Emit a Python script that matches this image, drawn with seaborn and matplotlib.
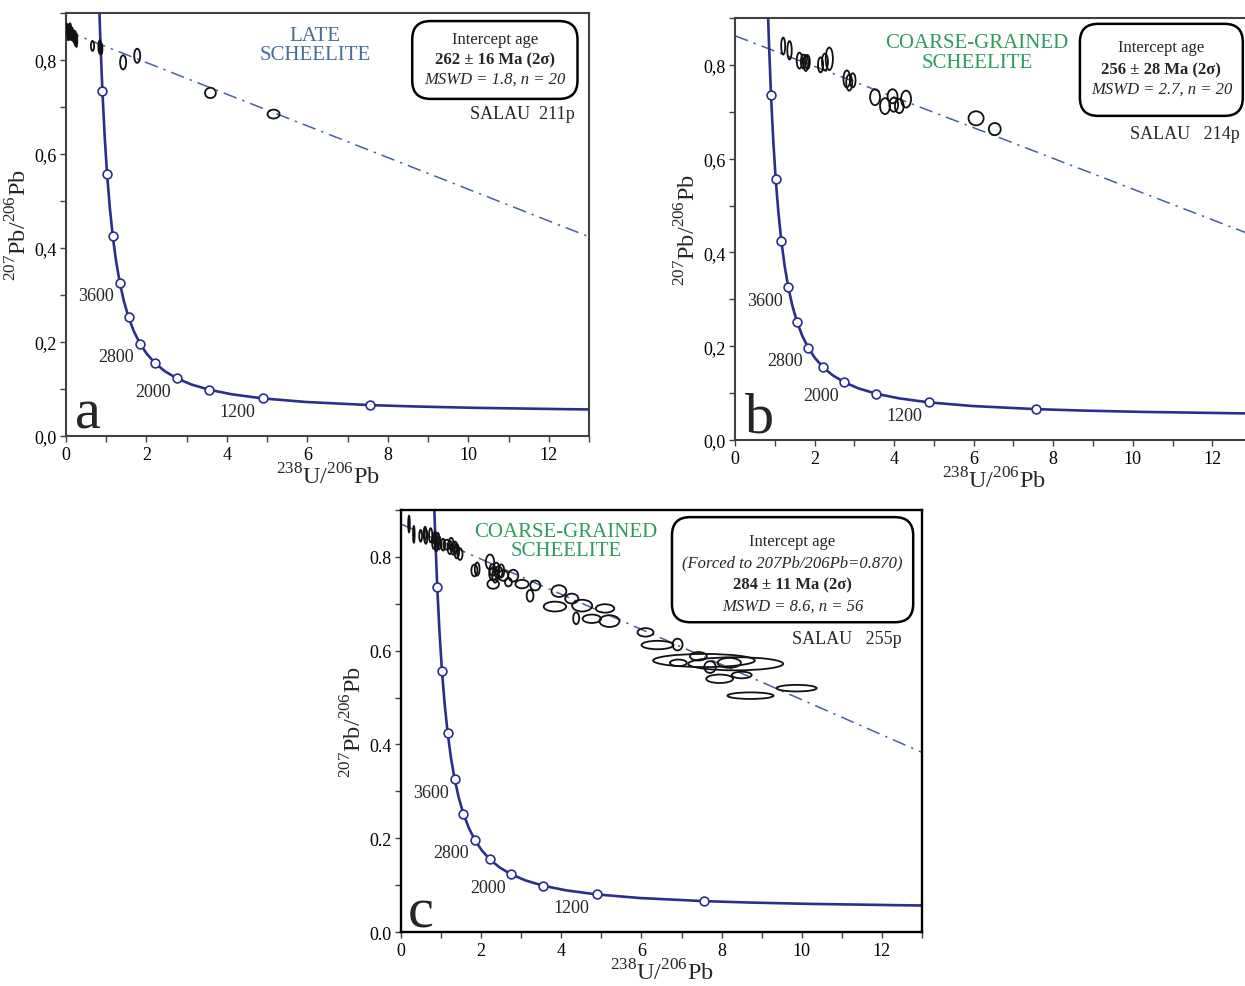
import matplotlib
matplotlib.use("Agg")
import matplotlib.pyplot as plt
from matplotlib.patches import Ellipse, FancyBboxPatch
from matplotlib.ticker import MultipleLocator, FuncFormatter
import seaborn as sns

# ── Data ──────────────────────────────────────────────────────────────────────
# Tera-Wasserburg concordia (age in Ma, 238U/206Pb, 207Pb/206Pb)
CONC_AGE = [478, 500, 600, 700, 800, 1000, 1200, 1400, 1600, 1800, 2000, 2200,
            2400, 2600, 2800, 3000, 3200, 3400, 3600, 3800, 4000, 4200, 4400,
            4600, 4800, 5000, 5100, 5200]
CONC_X = [13.0, 12.40, 10.252, 8.718, 7.568, 5.959, 4.888, 4.122, 3.549, 3.106,
          2.749, 2.4587, 2.2169, 2.0129, 1.8384, 1.6877, 1.5557, 1.4398, 1.3370,
          1.2453, 1.1630, 1.0888, 1.0212, 0.9604, 0.9045, 0.8533, 0.8292, 0.806]
CONC_Y = [0.0566, 0.0572, 0.0599, 0.0628, 0.0658, 0.0725, 0.0801, 0.0888, 0.0987,
          0.1100, 0.1230, 0.1378, 0.1548, 0.1744, 0.1968, 0.2227, 0.2524, 0.2867,
          0.3264, 0.3721, 0.4250, 0.4863, 0.5572, 0.6394, 0.7347, 0.8453, 0.907,
          0.973]

# concordia age markers (every 400 Ma)
MARK_AGE = [800, 1200, 1600, 2000, 2400, 2800, 3200, 3600, 4000, 4400, 4800]
MARK_X = [7.568, 4.888, 3.549, 2.749, 2.2169, 1.8384, 1.5557, 1.3370, 1.1630, 1.0212, 0.9045]
MARK_Y = [0.0658, 0.0801, 0.0987, 0.1230, 0.1548, 0.1968, 0.2524, 0.3264, 0.4250, 0.5572, 0.7347]
AGE_LABELS = ["3600", "2800", "2000", "1200"]

# discordia (regression) lines
REG_A_X, REG_A_Y = [0, 13], [0.862, 0.424]
REG_B_X, REG_B_Y = [0, 13], [0.862, 0.437]
REG_C_X, REG_C_Y = [0, 13], [0.870, 0.383]

# analyses: centre x, centre y, ellipse width, ellipse height (2 sigma)
A_X = [0.03, 0.05, 0.07, 0.09, 0.11, 0.13, 0.15, 0.17, 0.20, 0.23, 0.26, 0.06, 0.10,
       0.66, 0.84, 0.87, 1.42, 1.77, 3.59, 5.16]
A_Y = [0.866, 0.860, 0.864, 0.857, 0.862, 0.855, 0.859, 0.852, 0.850, 0.846, 0.842,
       0.852, 0.868, 0.830, 0.828, 0.824, 0.795, 0.809, 0.730, 0.685]
A_W = [0.05, 0.05, 0.05, 0.05, 0.05, 0.05, 0.05, 0.05, 0.04, 0.04, 0.04, 0.05, 0.05,
       0.08, 0.07, 0.07, 0.15, 0.15, 0.27, 0.30]
A_H = [0.022, 0.025, 0.022, 0.025, 0.022, 0.025, 0.020, 0.022, 0.025, 0.030, 0.028,
       0.020, 0.020, 0.021, 0.028, 0.025, 0.030, 0.030, 0.022, 0.019]

B_X = [1.21, 1.37, 1.62, 1.72, 1.78, 1.82, 2.15, 2.26, 2.37, 2.81, 2.87, 2.96,
       3.52, 3.77, 3.96, 3.99, 4.13, 4.30, 6.06, 6.53]
B_Y = [0.840, 0.831, 0.809, 0.807, 0.804, 0.806, 0.800, 0.806, 0.813, 0.770, 0.762,
       0.767, 0.731, 0.712, 0.733, 0.715, 0.712, 0.727, 0.686, 0.663]
B_W = [0.10, 0.11, 0.14, 0.13, 0.12, 0.12, 0.13, 0.15, 0.18, 0.17, 0.15, 0.14,
       0.25, 0.25, 0.25, 0.22, 0.22, 0.25, 0.38, 0.30]
B_H = [0.036, 0.039, 0.034, 0.030, 0.034, 0.030, 0.032, 0.036, 0.048, 0.036, 0.034,
       0.030, 0.034, 0.034, 0.030, 0.030, 0.030, 0.036, 0.030, 0.026]

C_X = [0.20, 0.32, 0.49, 0.60, 0.62, 0.74, 0.82, 0.85, 0.88, 0.92, 0.95, 1.05,
       1.14, 1.22, 1.25, 1.31, 1.35, 1.39, 1.47, 1.83, 1.90, 2.22, 2.28, 2.30,
       2.35, 2.38, 2.43, 2.30, 2.55, 2.68, 2.80, 3.02, 3.35, 3.22, 3.94, 4.26,
       3.84, 4.52, 5.09, 4.37, 4.76, 5.20, 6.10, 6.40, 6.90, 7.42, 7.56, 8.35,
       6.92, 7.71, 8.19, 7.95, 8.50, 8.72, 9.87, 2.50]
C_Y = [0.870, 0.848, 0.845, 0.850, 0.843, 0.846, 0.832, 0.840, 0.826, 0.836, 0.830,
       0.826, 0.826, 0.820, 0.828, 0.817, 0.820, 0.812, 0.806, 0.771, 0.774, 0.789,
       0.772, 0.764, 0.760, 0.775, 0.767, 0.742, 0.760, 0.746, 0.760, 0.742, 0.739,
       0.717, 0.727, 0.711, 0.694, 0.696, 0.690, 0.669, 0.668, 0.663, 0.639, 0.612,
       0.613, 0.588, 0.579, 0.572, 0.574, 0.565, 0.574, 0.540, 0.548, 0.504, 0.520,
       0.770]
C_W = [0.04, 0.04, 0.07, 0.07, 0.08, 0.08, 0.09, 0.08, 0.08, 0.08, 0.08, 0.10,
       0.17, 0.12, 0.12, 0.14, 0.12, 0.12, 0.13, 0.15, 0.12, 0.21, 0.15, 0.20,
       0.15, 0.15, 0.20, 0.29, 0.25, 0.17, 0.25, 0.33, 0.25, 0.17, 0.37, 0.33,
       0.56, 0.50, 0.46, 0.15, 0.46, 0.50, 0.40, 0.80, 0.25, 0.42, 2.54, 2.37,
       0.42, 0.29, 0.58, 0.67, 0.50, 1.15, 1.00, 0.15]
C_H = [0.035, 0.035, 0.025, 0.028, 0.030, 0.030, 0.030, 0.028, 0.028, 0.030, 0.028,
       0.025, 0.021, 0.028, 0.025, 0.025, 0.025, 0.030, 0.025, 0.025, 0.028, 0.032,
       0.025, 0.028, 0.030, 0.025, 0.025, 0.020, 0.022, 0.018, 0.025, 0.018, 0.021,
       0.025, 0.025, 0.021, 0.021, 0.025, 0.018, 0.025, 0.018, 0.025, 0.018, 0.018,
       0.025, 0.018, 0.028, 0.028, 0.014, 0.025, 0.021, 0.018, 0.014, 0.014, 0.014,
       0.028]

# ── Style ─────────────────────────────────────────────────────────────────────
sns.set_theme(style="ticks")
plt.rcParams["font.family"] = ["Liberation Serif", "DejaVu Serif"]
plt.rcParams["mathtext.fontset"] = "custom"
plt.rcParams["mathtext.rm"] = "Liberation Serif"

NAVY = "#2b2e8c"
REG_COL = "#45609a"
BLUE_TXT = "#4a6c9c"
GREEN_TXT = "#2f9a5c"
FRAME = "#404040"


def comma_fmt(v, pos):
    return f"{v:.1f}".replace(".", ",")


def draw_panel(ax, ex, ey, ew, eh, reg_x, reg_y, comma=True):
    sns.lineplot(x=reg_x, y=reg_y, color=REG_COL, lw=1.1, sort=False, ax=ax)
    ax.lines[-1].set_dashes([9, 4, 1.5, 4])
    sns.lineplot(x=CONC_X, y=CONC_Y, color=NAVY, lw=1.9, sort=False, ax=ax)
    sns.scatterplot(x=MARK_X, y=MARK_Y, s=40, color="white", edgecolor=NAVY,
                    linewidth=1.2, zorder=5, ax=ax)
    for x, y, w, h in zip(ex, ey, ew, eh):
        ax.add_patch(Ellipse((x, y), w, h, fill=False, edgecolor="#111111", lw=1.3, zorder=4))

    for lab, (lx, ly) in zip(AGE_LABELS, [(0.75, 0.298), (1.25, 0.170), (2.17, 0.095), (4.25, 0.052)]):
        ax.text(lx, ly, lab, fontsize=13, ha="center", va="center")

    ax.set_xlim(0, 13)
    ax.set_ylim(0, 0.9)
    ax.xaxis.set_major_locator(MultipleLocator(2))
    ax.xaxis.set_minor_locator(MultipleLocator(1))
    ax.yaxis.set_major_locator(MultipleLocator(0.2))
    ax.yaxis.set_minor_locator(MultipleLocator(0.1))
    if comma:
        ax.yaxis.set_major_formatter(FuncFormatter(comma_fmt))
    else:
        ax.yaxis.set_major_formatter(FuncFormatter(lambda v, p: f"{v:.1f}"))
    ax.tick_params(which="both", direction="out", length=4, width=1, colors=FRAME,
                   labelcolor="black", labelsize=13, pad=3)
    for sp in ax.spines.values():
        sp.set_visible(True)
        sp.set_color(FRAME)
        sp.set_linewidth(1.5)
    ax.set_xlabel(r"$^{\mathrm{238}}$U/$^{\mathrm{206}}$Pb", fontsize=17.5, labelpad=0)
    ax.set_ylabel(r"$^{\mathrm{207}}$Pb/$^{\mathrm{206}}$Pb", fontsize=17.5, labelpad=2)


def info_box(ax, x0, y0, x1, y1, aspect):
    box = FancyBboxPatch((x0, y0), x1 - x0, y1 - y0, transform=ax.transAxes,
                         boxstyle="round,pad=0,rounding_size=0.035",
                         mutation_aspect=aspect, fill=False, edgecolor="black",
                         lw=1.8, zorder=6)
    ax.add_patch(box)


fig = plt.figure(figsize=(12.45, 9.87), dpi=100)
ax_a = fig.add_axes([0.0530, 0.5572, 0.4201, 0.4286])
ax_b = fig.add_axes([0.5904, 0.5532, 0.4153, 0.4276])
ax_c = fig.add_axes([0.3221, 0.0547, 0.4185, 0.4276])

# ── Panel a ───────────────────────────────────────────────────────────────────
draw_panel(ax_a, A_X, A_Y, A_W, A_H, REG_A_X, REG_A_Y)
ax_a.text(6.19, 0.832, "LATE\nSCHEELITE", color=BLUE_TXT, fontsize=15,
          ha="center", va="center", linespacing=1.05)
info_box(ax_a, 0.662, 0.797, 0.978, 0.981, 523 / 423)
ax_a.text(10.66, 0.845, "Intercept age", fontsize=12, ha="center", va="center")
ax_a.text(10.66, 0.802, "262 ± 16 Ma (2σ)", fontsize=12, fontweight="bold", ha="center", va="center")
ax_a.text(10.66, 0.760, "MSWD = 1.8, n = 20", fontsize=12, style="italic", ha="center", va="center")
ax_a.text(12.65, 0.687, "SALAU  211p", fontsize=13, ha="right", va="center")
ax_a.text(0.55, 0.018, "a", fontsize=42, ha="center", va="baseline")

# ── Panel b ───────────────────────────────────────────────────────────────────
draw_panel(ax_b, B_X, B_Y, B_W, B_H, REG_B_X, REG_B_Y)
ax_b.text(6.08, 0.826, "COARSE-GRAINED\nSCHEELITE", color=GREEN_TXT, fontsize=15,
          ha="center", va="center", linespacing=1.05)
info_box(ax_b, 0.667, 0.768, 0.982, 0.986, 517 / 422)
ax_b.text(10.72, 0.838, "Intercept age", fontsize=12, ha="center", va="center")
ax_b.text(10.72, 0.791, "256 ± 28 Ma (2σ)", fontsize=12, fontweight="bold", ha="center", va="center")
ax_b.text(10.72, 0.749, "MSWD = 2.7, n = 20", fontsize=12, style="italic", ha="center", va="center")
ax_b.text(12.7, 0.653, "SALAU   214p", fontsize=13, ha="right", va="center")
ax_b.text(0.62, 0.018, "b", fontsize=42, ha="center", va="baseline")

# ── Panel c ───────────────────────────────────────────────────────────────────
draw_panel(ax_c, C_X, C_Y, C_W, C_H, REG_C_X, REG_C_Y, comma=False)
for sp in ax_c.spines.values():
    sp.set_color("black")
    sp.set_linewidth(1.7)
ax_c.text(4.12, 0.834, "COARSE-GRAINED\nSCHEELITE", color=GREEN_TXT, fontsize=15,
          ha="center", va="center", linespacing=1.05)
info_box(ax_c, 0.520, 0.734, 0.983, 0.983, 521 / 422)
ax_c.text(9.77, 0.834, "Intercept age", fontsize=12, ha="center", va="center")
ax_c.text(9.77, 0.789, "(Forced to 207Pb/206Pb=0.870)", fontsize=12, style="italic", ha="center", va="center")
ax_c.text(9.77, 0.742, "284 ± 11 Ma (2σ)", fontsize=12, fontweight="bold", ha="center", va="center")
ax_c.text(9.77, 0.695, "MSWD = 8.6, n = 56", fontsize=12, style="italic", ha="center", va="center")
ax_c.text(12.5, 0.625, "SALAU   255p", fontsize=13, ha="right", va="center")
ax_c.text(0.5, 0.012, "c", fontsize=42, ha="center", va="baseline")

fig.savefig("out.png", dpi=100)
plt.close(fig)
